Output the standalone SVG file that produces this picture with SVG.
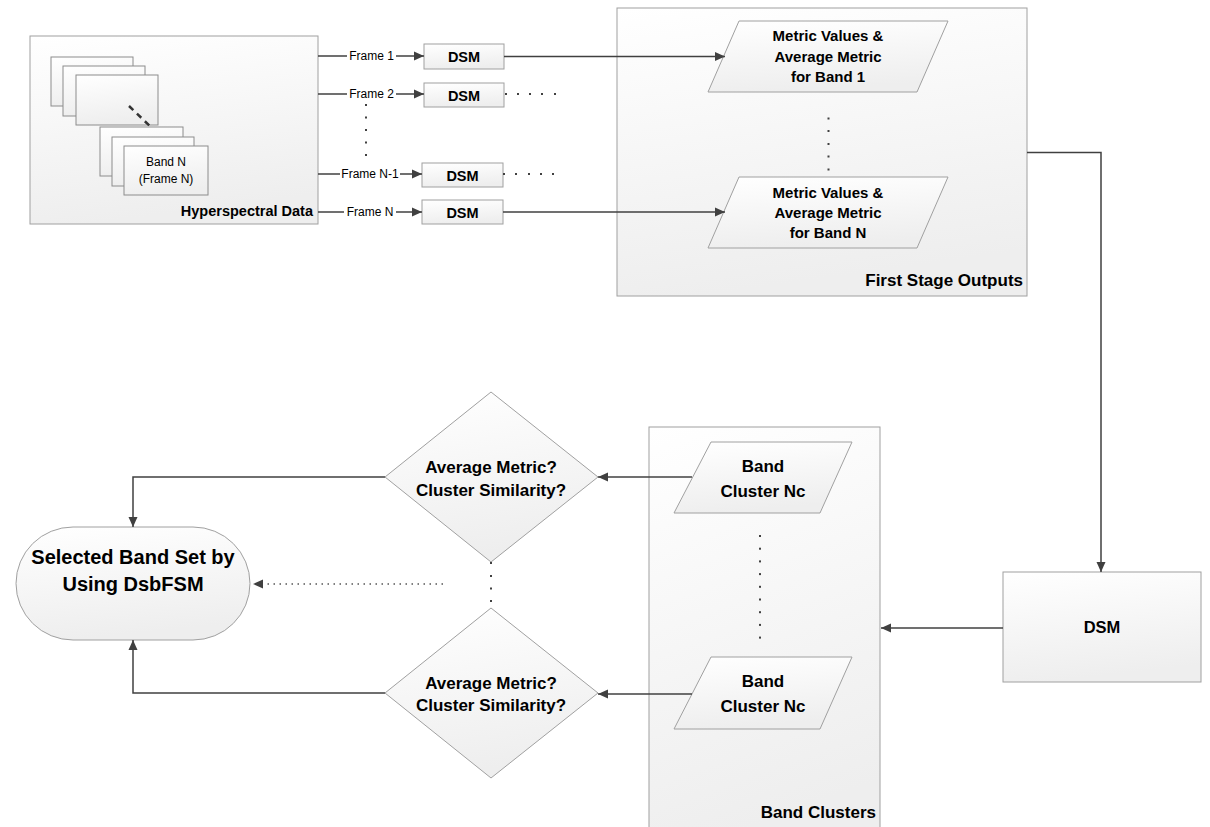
<svg xmlns="http://www.w3.org/2000/svg" width="1210" height="827" viewBox="0 0 1210 827">
<defs>
<linearGradient id="g" x1="0" y1="0" x2="0.2" y2="1">
<stop offset="0" stop-color="#ffffff"/>
<stop offset="1" stop-color="#eeeeee"/>
</linearGradient>
<marker id="ah" viewBox="0 0 10 10" refX="10" refY="5" markerWidth="10" markerHeight="10" markerUnits="userSpaceOnUse" orient="auto">
<path d="M0,0.5 L10,5 L0,9.5 z" fill="#404040"/>
</marker>
<style>
.box{fill:url(#g);stroke:#a0a0a0;stroke-width:1}
.frm{fill:url(#g);stroke:#8c8c8c;stroke-width:1}
.c{fill:none;stroke:#404040;stroke-width:1.5}
.a{marker-end:url(#ah)}
.dot{fill:#404040}
.b{font-family:"Liberation Sans",Arial,sans-serif;font-weight:bold;fill:#000}
.r{font-family:"Liberation Sans",Arial,sans-serif;fill:#000}
.m{text-anchor:middle}
.e{text-anchor:end}
</style>
</defs>
<rect width="1210" height="827" fill="#ffffff"/>

<g id="hyperspectral">
<rect class="box" x="30" y="36" width="288" height="188"/>
<rect class="frm" x="51" y="57" width="82" height="49"/>
<rect class="frm" x="63" y="66" width="82" height="50"/>
<rect class="frm" x="76" y="75" width="82" height="50"/>
<line x1="129" y1="106" x2="154" y2="130" stroke="#333" stroke-width="2.5" stroke-dasharray="6 5"/>
<rect class="frm" x="100" y="127" width="83" height="49"/>
<rect class="frm" x="112" y="137" width="82" height="49"/>
<rect class="frm" x="124" y="146" width="84" height="49"/>
<text class="r m" x="166" y="166" font-size="12">Band N</text>
<text class="r m" x="166" y="183" font-size="12">(Frame N)</text>
<text class="b e" x="313" y="216" font-size="14.5">Hyperspectral Data</text>
</g>

<g id="dsm1"><rect class="box" x="424" y="44" width="80" height="25"/><text class="b m" x="464" y="61.5" font-size="14.5">DSM</text></g>
<g id="dsm2"><rect class="box" x="424" y="83" width="80" height="24"/><text class="b m" x="464" y="100.5" font-size="14.5">DSM</text></g>
<g id="dsm3"><rect class="box" x="422" y="163" width="81" height="24"/><text class="b m" x="462.5" y="180.5" font-size="14.5">DSM</text></g>
<g id="dsm4"><rect class="box" x="422" y="200" width="81" height="24"/><text class="b m" x="462.5" y="217.5" font-size="14.5">DSM</text></g>

<g id="first-stage">
<rect class="box" x="617" y="8" width="410" height="288"/>
<text class="b e" x="1023" y="286" font-size="17">First Stage Outputs</text>
</g>
<g id="metric1">
<polygon class="box" points="739,21 948,21 917,92 708,92"/>
<text class="b m" x="828" y="41" font-size="15">Metric Values &amp;</text>
<text class="b m" x="828" y="62" font-size="15">Average Metric</text>
<text class="b m" x="828" y="82" font-size="15">for Band 1</text>
</g>
<g id="metricN">
<polygon class="box" points="739,177 948,177 917,248 708,248"/>
<text class="b m" x="828" y="197.5" font-size="15">Metric Values &amp;</text>
<text class="b m" x="828" y="217.5" font-size="15">Average Metric</text>
<text class="b m" x="828" y="237.5" font-size="15">for Band N</text>
</g>

<g id="dsm-big"><rect class="box" x="1003" y="572" width="198" height="110"/><text class="b m" x="1102" y="633" font-size="16.5">DSM</text></g>

<g id="band-clusters">
<rect class="box" x="649" y="427" width="231" height="420"/>
<text class="b e" x="876" y="818" font-size="17">Band Clusters</text>
</g>
<g id="cluster1">
<polygon class="box" points="711,442 852,442 820,513 674,513"/>
<text class="b m" x="763" y="472" font-size="17">Band</text>
<text class="b m" x="763" y="497" font-size="17">Cluster Nc</text>
</g>
<g id="cluster2">
<polygon class="box" points="711,657 852,657 820,729 674,729"/>
<text class="b m" x="763" y="687" font-size="17">Band</text>
<text class="b m" x="763" y="712" font-size="17">Cluster Nc</text>
</g>

<g id="decision1">
<polygon class="box" points="491,392 598,477 491,562 385,477"/>
<text class="b m" x="491" y="473" font-size="17">Average Metric?</text>
<text class="b m" x="491" y="496" font-size="17">Cluster Similarity?</text>
</g>
<g id="decision2">
<polygon class="box" points="491,608 598,693 491,778 385,693"/>
<text class="b m" x="491" y="689" font-size="17">Average Metric?</text>
<text class="b m" x="491" y="711" font-size="17">Cluster Similarity?</text>
</g>

<g id="selected">
<rect class="box" x="16" y="527" width="234" height="113" rx="57" ry="56.5"/>
<text class="b m" x="133" y="564" font-size="20">Selected Band Set by</text>
<text class="b m" x="133" y="591" font-size="20">Using DsbFSM</text>
</g>

<g id="connectors">
<line class="c" x1="318" y1="56" x2="347" y2="56"/>
<line class="c a" x1="396" y1="56" x2="424" y2="56"/>
<text class="r m" x="371.5" y="60" font-size="12">Frame 1</text>
<line class="c" x1="318" y1="94" x2="347" y2="94"/>
<line class="c a" x1="396" y1="94" x2="424" y2="94"/>
<text class="r m" x="371.5" y="98" font-size="12">Frame 2</text>
<line class="c" x1="318" y1="174" x2="340" y2="174"/>
<line class="c a" x1="400" y1="174" x2="422" y2="174"/>
<text class="r m" x="370" y="178" font-size="12">Frame N-1</text>
<line class="c" x1="318" y1="212" x2="344" y2="212"/>
<line class="c a" x1="396" y1="212" x2="422" y2="212"/>
<text class="r m" x="370" y="216" font-size="12">Frame N</text>

<line class="c a" x1="504" y1="56.5" x2="725" y2="56.5"/>
<line class="c a" x1="503" y1="212" x2="725" y2="212"/>
<polyline class="c a" points="1027,152.5 1101,152.5 1101,572"/>
<line class="c a" x1="1003" y1="628" x2="881" y2="628"/>
<line class="c a" x1="692" y1="477" x2="598" y2="477"/>
<line class="c a" x1="692" y1="694" x2="598" y2="694"/>
<polyline class="c a" points="385,477 133,477 133,527"/>
<polyline class="c a" points="385,693 133,693 133,640"/>
<line x1="443" y1="584" x2="262" y2="584" stroke="#555" stroke-width="1.5" stroke-dasharray="1.5 4.5"/>
<path d="M253,584 L263,579.5 L263,588.5 z" fill="#404040"/>

<g class="dot">
<rect x="365" y="104" width="2" height="2"/><rect x="365" y="116.5" width="2" height="2"/><rect x="365" y="129" width="2" height="2"/><rect x="365" y="141.5" width="2" height="2"/><rect x="365" y="154" width="2" height="2"/>
<rect x="505" y="93" width="2" height="2"/><rect x="517" y="93" width="2" height="2"/><rect x="529" y="93" width="2" height="2"/><rect x="541" y="93" width="2" height="2"/><rect x="554" y="93" width="2" height="2"/>
<rect x="503" y="173" width="2" height="2"/><rect x="515" y="173" width="2" height="2"/><rect x="528" y="173" width="2" height="2"/><rect x="540" y="173" width="2" height="2"/><rect x="552" y="173" width="2" height="2"/>
<rect x="827.5" y="117.5" width="2" height="2"/><rect x="827.5" y="130" width="2" height="2"/><rect x="827.5" y="143" width="2" height="2"/><rect x="827.5" y="155.5" width="2" height="2"/><rect x="827.5" y="168.5" width="2" height="2"/>
<rect x="759" y="535" width="2" height="2"/><rect x="759" y="547.7" width="2" height="2"/><rect x="759" y="560.4" width="2" height="2"/><rect x="759" y="573.1" width="2" height="2"/><rect x="759" y="585.8" width="2" height="2"/><rect x="759" y="598.5" width="2" height="2"/><rect x="759" y="611.2" width="2" height="2"/><rect x="759" y="623.9" width="2" height="2"/><rect x="759" y="636.6" width="2" height="2"/>
<rect x="490" y="562" width="2" height="2"/><rect x="490" y="575" width="2" height="2"/><rect x="490" y="587.5" width="2" height="2"/><rect x="490" y="600" width="2" height="2"/>
</g>
</g>
</svg>
